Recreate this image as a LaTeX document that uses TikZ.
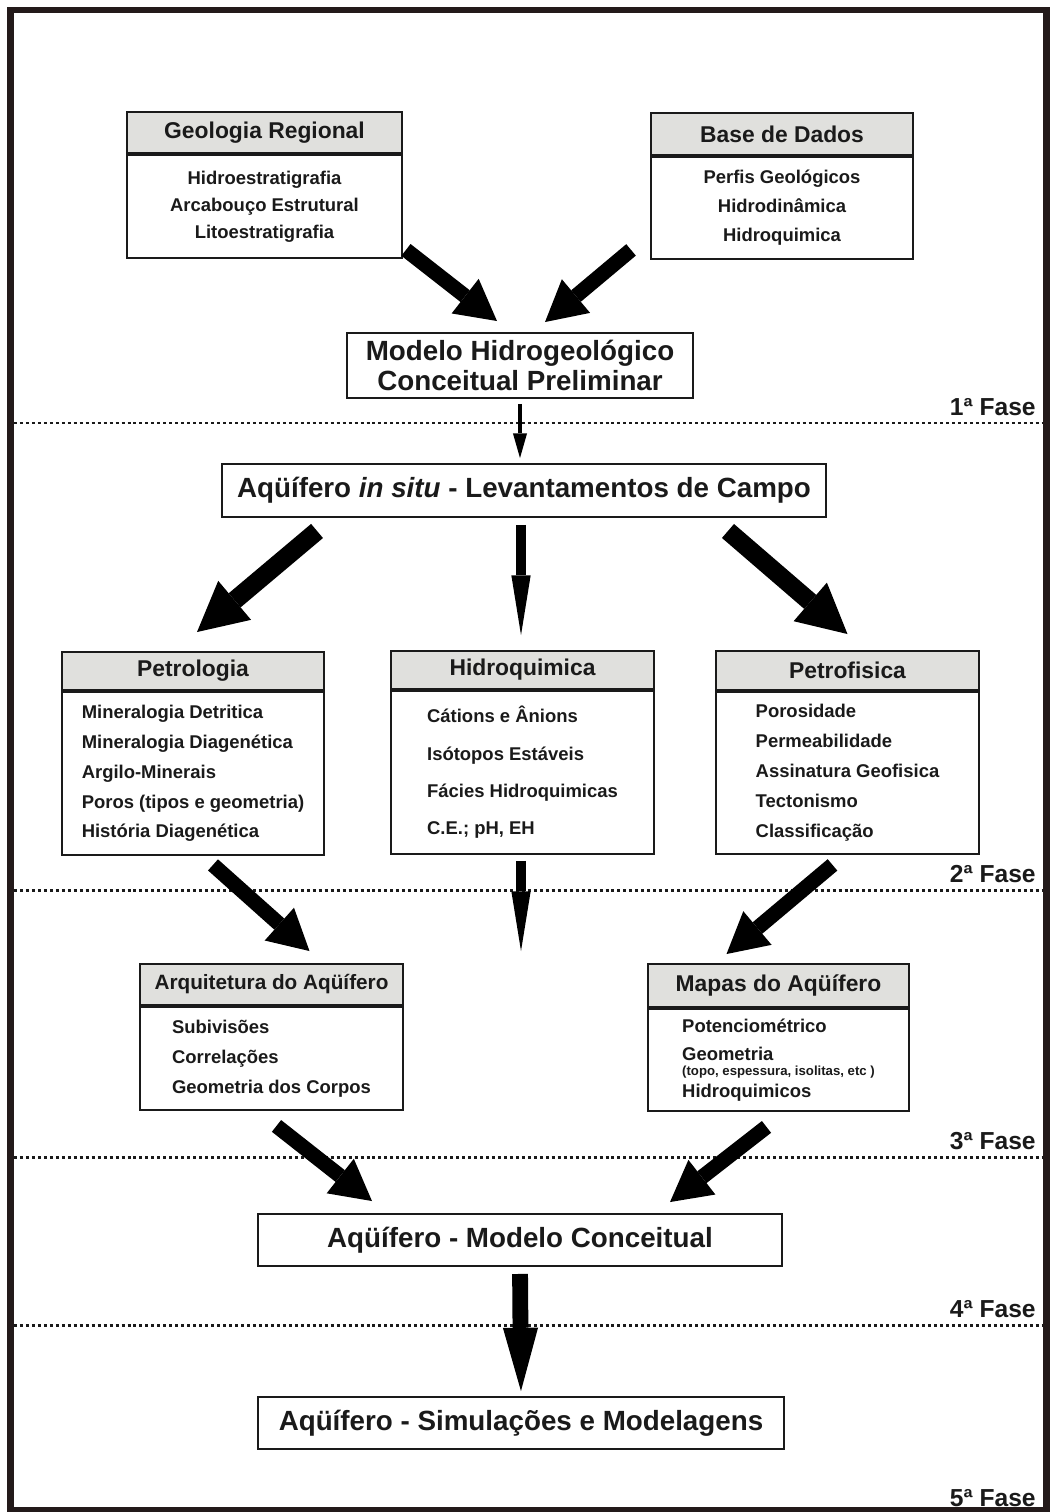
\documentclass[tikz,border=0pt]{standalone}
\usepackage{fontspec}
\setmainfont{Liberation Sans}
\usetikzlibrary{arrows.meta,calc,positioning}
\definecolor{fluxGray}{HTML}{E0E0DD}
\definecolor{fluxFrame}{HTML}{231A1A}
\definecolor{fluxInk}{HTML}{1A1A1A}
\tikzset{
  frame/.style={draw=fluxFrame, line width=3.6pt},
  phase line/.style={draw=fluxInk, line width=1.7pt, dash pattern=on 1.7pt off 1.7pt},
  phase label/.style={anchor=base east, inner sep=0pt, text=fluxInk,
    font=\bfseries\fontsize{14}{16}\selectfont},
  head box/.style={draw=fluxInk, line width=1.1pt, fill=fluxGray, inner sep=0pt,
    text=fluxInk, font=\bfseries\fontsize{13}{15}\selectfont},
  body box/.style={draw=fluxInk, line width=1.1pt, fill=white, inner sep=0pt,
    text=fluxInk, align=left, font=\bfseries\fontsize{10.5}{17}\selectfont},
  main box/.style={draw=fluxInk, line width=1.1pt, fill=white, inner sep=0pt,
    text=fluxInk, align=center, font=\bfseries\fontsize{15.8}{17}\selectfont},
  fat arrow/.style={draw=black, line width=8.5pt,
    -{Triangle[length=23pt,width=25pt,line width=0pt]}},
  wide arrow/.style={draw=black, line width=10.5pt,
    -{Triangle[length=28pt,width=29pt,line width=0pt]}},
  slim arrow/.style={draw=black, line width=5.5pt,
    -{Triangle[length=34pt,width=11pt,line width=0pt]}},
  tiny arrow/.style={draw=black, line width=2.8pt,
    -{Triangle[length=14pt,width=8pt,line width=0pt]}},
  drop arrow/.style={draw=black, line width=9pt,
    -{Triangle[length=36pt,width=20pt,line width=0pt]}}
}
\begin{document}
\begin{tikzpicture}[x=0.2mm, y=-0.2mm]
  \useasboundingbox (0,0) rectangle (1050,1512);
  \draw[frame] (10.5,10) rectangle (1046.5,1510.5);
  \foreach \ph/\y in {1/423,2/890,3/1157,4/1325}{
    \draw[phase line] (14,\y) -- (1042,\y);
    \node[phase label] (fase\ph) at (1036,\y-8) {\ph{}ª Fase};
  }
  \node[phase label] (fase5) at (1036,1506) {5ª Fase};

  \node[head box, minimum width=55mm, minimum height=8.2mm] (geoH) at (264.5,132.5)
    {Geologia Regional};
  \node[body box, below=0pt of geoH, minimum width=55mm, minimum height=20.6mm,
    align=center, font=\bfseries\fontsize{10.5}{15.4}\selectfont] (geoB)
    {Hidroestratigrafia\\Arcabouço Estrutural\\Litoestratigrafia};
  \node[head box, minimum width=52.4mm, minimum height=8.4mm] (baseH) at (782,134)
    {Base de Dados};
  \node[body box, below=0pt of baseH, minimum width=52.4mm, minimum height=20.4mm,
    align=center, font=\bfseries\fontsize{10.5}{16.5}\selectfont] (baseB)
    {Perfis Geológicos\\Hidrodinâmica\\Hidroquimica};
  \node[main box, minimum width=69.2mm, minimum height=13mm] (modprel) at (520,365.5)
    {Modelo Hidrogeológico\\Conceitual Preliminar};
  \node[main box, minimum width=120.8mm, minimum height=10.6mm] (insitu) at (524,490.5)
    {Aqüífero \textit{in situ} - Levantamentos de Campo};

  \node[head box, minimum width=52.4mm, minimum height=7.6mm] (petroH) at (193,671)
    {Petrologia};
  \node[body box, below=0pt of petroH, minimum width=52.4mm, minimum height=32.6mm] (petroB)
    {Mineralogia Detritica\\Mineralogia Diagenética\\Argilo-Minerais\\
     Poros (tipos e geometria)\\História Diagenética};
  \node[head box, minimum width=52.6mm, minimum height=7.6mm] (hidroH) at (522.5,670)
    {Hidroquimica};
  \node[body box, below=0pt of hidroH, minimum width=52.6mm, minimum height=32.6mm,
    font=\bfseries\fontsize{10.5}{21.2}\selectfont] (hidroB)
    {Cátions e Ânions\\Isótopos Estáveis\\Fácies Hidroquimicas\\C.E.; pH, EH};
  \node[head box, minimum width=52.6mm, minimum height=7.8mm] (pfisH) at (847.5,670.5)
    {Petrofisica};
  \node[body box, below=0pt of pfisH, minimum width=52.6mm, minimum height=32.4mm] (pfisB)
    {Porosidade\\Permeabilidade\\Assinatura Geofisica\\Tectonismo\\Classificação};

  \node[head box, minimum width=52.6mm, minimum height=8.2mm,
    font=\bfseries\fontsize{11.8}{14}\selectfont] (arqH) at (271.5,984.5)
    {Arquitetura do Aqüífero};
  \node[body box, below=0pt of arqH, minimum width=52.6mm, minimum height=20.6mm] (arqB)
    {Subivisões\\Correlações\\Geometria dos Corpos};
  \node[head box, minimum width=52.2mm, minimum height=8.6mm] (mapH) at (778.5,985.5)
    {Mapas do Aqüífero};
  \node[body box, below=0pt of mapH, minimum width=52.2mm, minimum height=20.4mm,
    font=\bfseries\fontsize{10.5}{16}\selectfont] (mapB)
    {Potenciométrico\\Geometria\\[-7.5pt]
     {\fontsize{7.5}{8}\selectfont (topo, espessura, isolitas, etc )}\\[-3.5pt]Hidroquimicos};

  \node[main box, minimum width=104.8mm, minimum height=10.4mm] (modcon) at (520,1240)
    {Aqüífero - Modelo Conceitual};
  \node[main box, minimum width=105.2mm, minimum height=10.4mm] (simul) at (521,1423)
    {Aqüífero - Simulações e Modelagens};
  \coordinate (hidroEnd) at (521,951);

  \draw[fat arrow] ($(geoB.south east)+(3,-9)$) -- ($(modprel.north)+(-23,-11)$);
  \draw[fat arrow] ($(baseB.south west)+(-19,-10)$) -- ($(modprel.north)+(25,-10)$);
  \draw[tiny arrow, shorten <=1mm, shorten >=1mm] (modprel.south) -- (modprel.south |- insitu.north);
  \draw[wide arrow] ($(insitu.south west)+(96,13)$) -- ($(petroH.north)+(4,-19)$);
  \draw[slim arrow, shorten <=1.4mm, shorten >=3mm] (insitu.south -| hidroEnd) -- (hidroH.north -| hidroEnd);
  \draw[wide arrow] ($(insitu.south east)+(-99,13)$) -- ($(pfisH.north)+(0,-16)$);
  \draw[fat arrow] ($(petroB.south)+(20,9)$) -- ($(arqH.north)+(38,-12)$);
  \draw[slim arrow, shorten <=1.2mm] (hidroB.south -| hidroEnd) -- (hidroEnd);
  \draw[fat arrow] ($(pfisB.south)+(-15,10)$) -- ($(mapH.north)+(-52,-9)$);
  \draw[fat arrow] ($(arqB.south)+(5,15)$) -- ($(modcon.north)+(-148,-12)$);
  \draw[fat arrow] ($(mapB.south)+(-12,15)$) -- ($(modcon.north)+(150,-11)$);
  \draw[drop arrow, shorten <=1.4mm, shorten >=1mm] (modcon.south) -- (simul.north);
\end{tikzpicture}
\end{document}
